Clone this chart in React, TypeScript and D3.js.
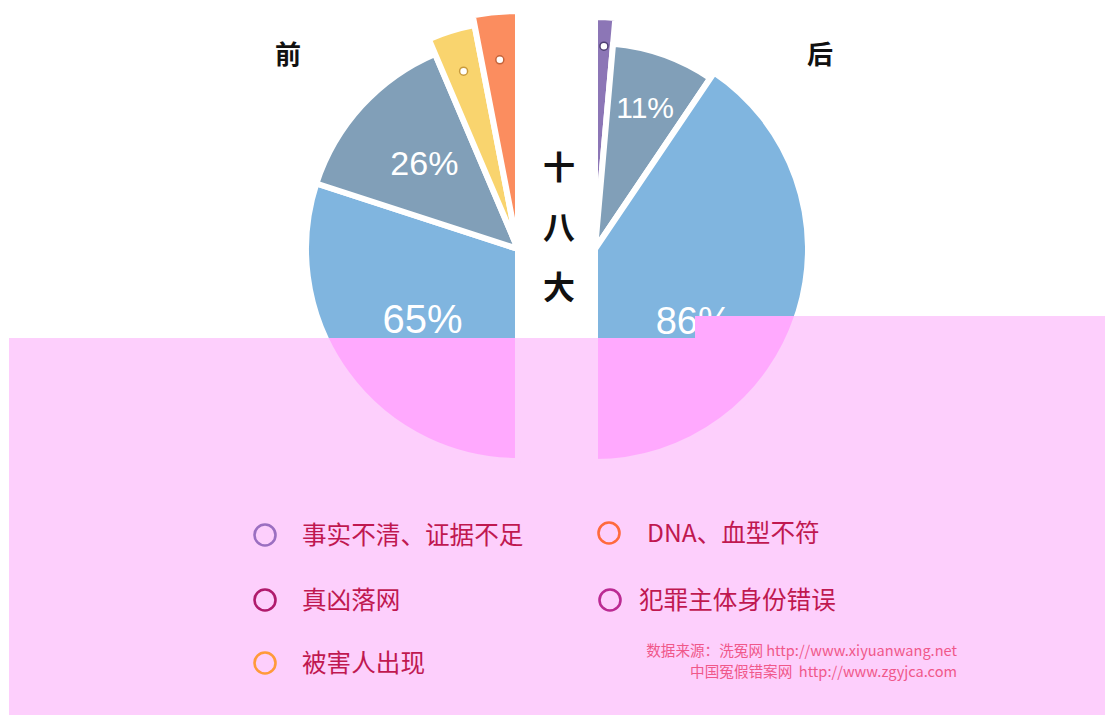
import * as d3 from "d3";

// share of each cause (labels are the printed figures)
const beforeShares = [60, 27.2, 6.7, 6.1];
const beforeLabels = ["65%", "26%", "", ""];
const afterShares = [2.8, 16.1, 81.1];
const afterLabels = ["", "11%", "86%"];

const legendNames = ["事实不清、证据不足", "DNA、血型不符", "真凶落网", "犯罪主体身份错误", "被害人出现"];
const centerChars = ["十", "八", "大"];
const sourceLines = ["数据来源：洗冤网 http://www.xiyuanwang.net", "中国冤假错案网  http://www.zgyjca.com"];

const W = 1105, H = 715;
const CJK = '"Noto Sans CJK SC", "Noto Sans", sans-serif';
const NUM = '"Liberation Sans", Arial, sans-serif';
const BG_PINK = "#fdcffc";
const SLICE_PINK = "#ffa9fe";
const GAP = 6;

type Half = {
  cx: number; cy: number; start: number; end: number;
  colors: string[]; radii: number[];
  dotR: number[]; dotStroke: string[];
  labelR: number[]; labelT: number[]; fontSize: number[];
};

const before: Half = {
  cx: 518, cy: 249, start: Math.PI, end: 2 * Math.PI,
  colors: ["#80b5df", "#819fb8", "#f9d46e", "#fb8d5f"],
  radii: [212, 212, 228, 238],
  dotR: [0, 0, 186, 190],
  dotStroke: ["", "", "#c99b3c", "#c4633a"],
  labelR: [118, 127, 0, 0],
  labelT: [0.5, 0.5, 0.5, 0.5],
  fontSize: [40, 34, 0, 0],
};

const after: Half = {
  cx: 595, cy: 249, start: 0, end: Math.PI,
  colors: ["#8c76b6", "#819fb8", "#80b5df"],
  radii: [232, 206, 213],
  dotR: [203, 0, 0],
  dotStroke: ["#4e3f73", "", ""],
  labelR: [0, 150, 122],
  labelT: [0.5, 0.5, 0.63],
  fontSize: [0, 30, 38],
};

const legendColors = ["#9b6fc1", "#ff6a3d", "#b01a6c", "#bb2a92", "#ff9a3a"];
const legendCx = [265, 609, 265, 610, 265];
const legendTx = [302, 647, 302, 639, 302];
const legendY = [535, 533, 600, 600, 663];

function slices(shares: number[], h: Half) {
  return d3.pie<number>().sort(null).startAngle(h.start).endAngle(h.end)(shares);
}

function arcPath(d: d3.PieArcDatum<number>, r: number) {
  return d3.arc<d3.PieArcDatum<number>>().innerRadius(0).outerRadius(r)(d) || "";
}

function HalfPie({ shares, labels, h }: { shares: number[]; labels: string[]; h: Half }) {
  const arcs = slices(shares, h);
  return (
    <g transform={`translate(${h.cx},${h.cy})`}>
      {arcs.map((d, i) => (
        <path key={i} d={arcPath(d, h.radii[i])} fill={h.colors[i]} stroke="#fff" strokeWidth={GAP} strokeLinejoin="round" />
      ))}
      {arcs.map((d, i) => {
        if (!h.dotR[i]) return null;
        const a = (d.startAngle + d.endAngle) / 2;
        return <circle key={i} cx={h.dotR[i] * Math.sin(a)} cy={-h.dotR[i] * Math.cos(a)} r={4} fill="#fff" stroke={h.dotStroke[i]} strokeWidth={1.5} />;
      })}
      {arcs.map((d, i) => {
        if (!labels[i]) return null;
        const a = d.startAngle + h.labelT[i] * (d.endAngle - d.startAngle);
        return (
          <text key={i} x={h.labelR[i] * Math.sin(a)} y={-h.labelR[i] * Math.cos(a)} dy="0.36em" textAnchor="middle"
            fill="#fff" fontFamily={NUM} fontSize={h.fontSize[i]}>{labels[i]}</text>
        );
      })}
    </g>
  );
}

function PinkSlices({ shares, h }: { shares: number[]; h: Half }) {
  const arcs = slices(shares, h);
  return (
    <g transform={`translate(${h.cx},${h.cy})`}>
      {arcs.map((d, i) => (
        <path key={i} d={arcPath(d, h.radii[i])} fill={SLICE_PINK} stroke={BG_PINK} strokeWidth={GAP} strokeLinejoin="round" />
      ))}
    </g>
  );
}

export default function App() {
  return (
    <svg width={W} height={H} style={{ position: "absolute", left: 0, top: 0, background: "#fff" }}>
      <defs>
        <clipPath id="pinkClip">
          <rect x={9} y={338} width={W - 9} height={H - 338} />
          <rect x={695} y={316} width={W - 695} height={22} />
        </clipPath>
      </defs>

      <HalfPie shares={beforeShares} labels={beforeLabels} h={before} />
      <HalfPie shares={afterShares} labels={afterLabels} h={after} />

      <text x={288} y={55} dy="0.36em" textAnchor="middle" fontFamily={CJK} fontWeight={700} fontSize={26} fill="#111">前</text>
      <text x={820} y={55} dy="0.36em" textAnchor="middle" fontFamily={CJK} fontWeight={700} fontSize={26} fill="#111">后</text>
      {centerChars.map((c, i) => (
        <text key={c} x={559} y={167 + i * 60} dy="0.36em" textAnchor="middle" fontFamily={CJK} fontWeight={700} fontSize={32} fill="#111">{c}</text>
      ))}

      {/* pink band over the lower part */}
      <g clipPath="url(#pinkClip)">
        <rect x={0} y={0} width={W} height={H} fill={BG_PINK} />
        <PinkSlices shares={beforeShares} h={before} />
        <PinkSlices shares={afterShares} h={after} />
      </g>

      {legendNames.map((name, i) => (
        <g key={name}>
          <circle cx={legendCx[i]} cy={legendY[i]} r={10.5} fill="none" stroke={legendColors[i]} strokeWidth={2.6} />
          <text x={legendTx[i]} y={legendY[i]} dy="0.36em" fontFamily={CJK} fontSize={24.6} fill="#c01850">{name}</text>
        </g>
      ))}

      {sourceLines.map((t, i) => (
        <text key={i} x={957} y={651 + i * 21} dy="0.36em" textAnchor="end" fontFamily={CJK} fontSize={14.6} fill="#f0588a"
          style={{ whiteSpace: "pre" }}>{t}</text>
      ))}
    </svg>
  );
}
